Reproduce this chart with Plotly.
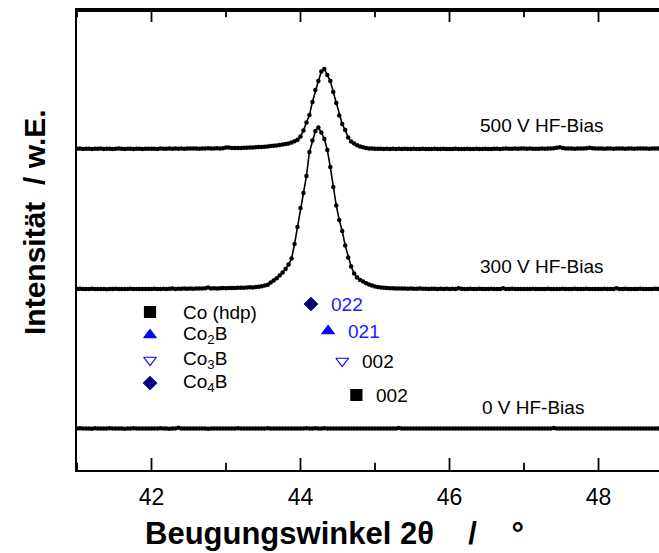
import plotly.graph_objects as go

# ---------------- data ----------------
# 2-theta measurement grid (instrument step 0.04 deg, 41.00 .. 48.80 deg)
two_theta_start = 41.0
two_theta_step = 0.04
n_points = 196
two_theta = [round(two_theta_start + two_theta_step * i, 2) for i in range(n_points)]

bias_labels = ["0 V HF-Bias", "300 V HF-Bias", "500 V HF-Bias"]

# intensities as plotted (arbitrary units, curves stacked)
intensity_0V = [
    41.5, 41.8, 41.4, 41.6, 41.5, 41.3, 41.7, 41.5, 41.4, 41.6, 41.5, 41.8, 41.5, 41.4, 41.6, 41.5, 41.3, 41.6, 41.5, 41.7, 41.4, 41.5, 41.6, 41.5, 41.4,
    41.6, 41.5, 41.4, 41.7, 41.5, 41.5, 41.3, 41.6, 41.5, 42.2, 41.6, 41.5, 41.4, 41.5, 41.6, 41.5, 41.4, 41.6, 41.5, 41.3, 41.5, 41.6, 41.4, 41.5, 41.6,
    41.5, 41.4, 41.6, 41.5, 41.7, 41.5, 41.4, 41.5, 41.6, 41.5, 41.4, 41.5, 41.6, 41.5, 41.7, 41.5, 41.4, 41.6, 41.5, 41.5, 41.4, 41.6, 41.5, 41.6, 41.5,
    41.6, 41.5, 41.7, 41.6, 41.5, 41.8, 41.6, 41.5, 41.7, 41.6, 41.5, 41.4, 41.6, 41.5, 41.5, 41.6, 41.4, 41.5, 41.6, 41.5, 41.4, 41.5, 41.6, 41.5, 41.4,
    41.5, 41.6, 41.4, 41.5, 41.5, 41.6, 41.4, 41.5, 42.1, 41.5, 41.4, 41.6, 41.5, 41.5, 41.4, 41.6, 41.5, 41.4, 41.5, 41.6, 41.5, 41.4, 41.5, 41.6, 41.5,
    41.4, 41.5, 41.6, 41.5, 41.4, 41.5, 41.6, 41.5, 41.4, 41.5, 41.6, 41.5, 41.4, 41.5, 41.5, 41.6, 41.4, 41.5, 41.6, 41.5, 41.4, 41.5, 41.6, 41.5, 41.4,
    41.5, 41.6, 41.4, 41.5, 41.6, 41.5, 41.4, 41.5, 41.6, 41.5, 41.9, 41.5, 41.4, 41.5, 41.6, 41.5, 41.4, 41.5, 41.6, 41.5, 41.4, 41.5, 41.6, 41.5, 41.5,
    41.4, 41.5, 41.6, 41.5, 41.4, 41.5, 41.6, 41.5, 41.4, 41.5, 41.6, 41.5, 41.4, 41.5, 41.6, 41.5, 41.4, 41.5, 41.6, 41.5, 41.5,
]

intensity_300V = [
    181.0, 181.2, 180.9, 181.1, 181.0, 181.2, 180.9, 181.0, 181.1, 181.0, 180.8, 181.1, 181.0, 181.2, 181.0, 180.9, 181.1, 181.0, 181.2, 180.9, 181.0, 181.1, 181.0, 180.9, 181.1,
    181.0, 181.2, 181.1, 181.0, 181.3, 181.1, 181.2, 181.4, 181.1, 181.3, 181.2, 181.4, 181.2, 181.5, 181.3, 181.4, 181.6, 181.4, 181.7, 182.6, 181.6, 181.8, 181.6, 181.8, 181.9,
    181.8, 182.0, 182.1, 181.9, 182.2, 182.3, 182.2, 182.4, 182.8, 182.6, 183.0, 183.3, 183.8, 184.5, 185.3, 187.5, 189.5, 191.7, 194.5, 197.5, 201.0, 205.5, 211.5, 226.0, 243.0,
    262.0, 277.0, 294.0, 318.0, 329.5, 339.0, 342.5, 337.5, 331.0, 320.0, 303.0, 283.0, 264.5, 250.0, 239.0, 224.5, 212.5, 203.5, 196.5, 192.5, 190.0, 188.5, 186.8, 185.5, 184.4,
    183.6, 183.0, 182.6, 182.3, 182.0, 181.8, 181.7, 181.5, 181.6, 181.4, 181.5, 181.3, 181.4, 181.3, 181.2, 181.4, 181.2, 181.3, 181.1, 181.2, 181.3, 181.1, 181.2, 181.0, 181.2,
    181.1, 181.2, 181.0, 181.8, 181.2, 181.1, 181.0, 181.2, 181.1, 181.0, 181.2, 181.1, 181.0, 181.1, 181.2, 181.0, 181.1, 181.0, 181.7, 181.1, 181.0, 181.2, 181.1, 181.0, 181.1,
    181.0, 181.1, 181.0, 181.2, 181.1, 181.0, 181.1, 181.0, 181.2, 181.1, 181.0, 181.1, 181.0, 181.2, 181.1, 181.0, 181.1, 181.2, 181.0, 181.1, 181.0, 181.2, 181.1, 181.0, 181.1,
    181.0, 181.1, 181.2, 181.0, 181.1, 181.0, 181.7, 181.1, 181.0, 181.2, 181.1, 181.0, 181.1, 181.0, 181.2, 181.1, 181.0, 181.1, 181.0, 181.2, 181.1,
]

intensity_500V = [
    321.2, 321.4, 321.1, 321.3, 321.2, 321.0, 321.3, 321.2, 321.4, 321.1, 321.2, 321.3, 321.1, 321.2, 321.4, 321.2, 321.1, 321.3, 321.2, 321.0, 321.2, 321.3, 321.1, 321.2, 321.3,
    321.2, 321.3, 321.1, 321.4, 321.2, 321.3, 321.5, 321.2, 321.4, 321.3, 321.5, 321.3, 321.4, 321.6, 321.4, 321.5, 321.3, 321.6, 321.5, 321.7, 321.5, 321.6, 321.8, 321.6, 321.7,
    322.4, 322.6, 322.0, 321.9, 322.1, 322.0, 322.3, 322.2, 322.5, 322.4, 322.7, 322.9, 323.0, 323.2, 323.6, 323.9, 324.2, 324.6, 325.0, 325.5, 326.0, 326.6, 327.6, 328.8, 330.2,
    333.5, 339.5, 347.5, 355.0, 368.0, 380.0, 389.0, 398.5, 401.0, 395.0, 389.0, 378.0, 367.0, 354.5, 346.0, 340.0, 332.5, 328.5, 326.5, 324.8, 323.6, 322.7, 322.0, 321.6, 321.4,
    321.3, 321.2, 321.3, 321.1, 321.2, 321.0, 321.2, 321.1, 321.3, 321.0, 321.2, 321.1, 321.0, 321.2, 321.1, 321.0, 321.2, 321.1, 321.0, 321.1, 321.2, 321.0, 321.1, 321.2, 321.0,
    321.1, 321.0, 321.2, 321.1, 321.0, 321.1, 321.2, 321.0, 321.1, 321.2, 321.0, 321.1, 321.2, 321.0, 321.1, 321.2, 321.3, 321.1, 321.2, 321.4, 321.2, 321.3, 321.5, 321.3, 321.6,
    321.5, 321.3, 321.4, 321.2, 321.3, 321.2, 321.4, 321.3, 321.5, 321.6, 321.8, 322.2, 322.8, 322.0, 321.6, 321.4, 321.5, 321.3, 321.4, 321.6, 321.5, 321.8, 322.3, 321.7, 321.5,
    321.4, 321.5, 321.3, 321.4, 321.5, 321.3, 321.4, 321.6, 321.4, 321.3, 321.5, 321.4, 321.3, 321.5, 321.4, 321.6, 321.4, 321.3, 321.5, 321.4, 321.5,
]

# phases (legend) and reference reflections
phase_names = ["Co (hdp)", "Co<sub>2</sub>B", "Co<sub>3</sub>B", "Co<sub>4</sub>B"]
reflex_2theta = [44.75, 44.37, 44.56, 44.14]
reflex_hkl = ["002", "021", "002", "022"]
reflex_height = [75, 139, 109, 166]

major_ticks = [42, 44, 46, 48]
minor_ticks = [41, 43, 45, 47]

# ---------------- styling / layout ----------------
FONT = "Liberation Sans, Arial, sans-serif"
phase_symbols = ["square", "triangle-up", "triangle-down-open", "diamond"]
phase_colors = ["#000000", "#0000FF", "#0000FF", "#000080"]
phase_sizes = [11, 11, 11, 10]
hkl_colors = ["#000000", "#1a1aff", "#000000", "#1a1aff"]

LEGEND_X = 41.98
LEGEND_Y = [158, 135, 110, 87]
LABEL_POS = [(46.41, 63), (46.38, 204), (46.38, 345)]
X_RANGE = [41, 48.812]
Y_RANGE = [0, 460]          # 1 unit == 1 px of plot height
MAJOR_LEN, MINOR_LEN = 10, 6

fig = go.Figure()

curves = [intensity_0V, intensity_300V, intensity_500V]
for lab, ys in zip(bias_labels, curves):
    fig.add_trace(go.Scatter(
        x=two_theta, y=ys, mode="lines+markers", name=lab,
        line=dict(color="black", width=1.6),
        marker=dict(color="black", size=4.5),
        showlegend=False, hoverinfo="skip",
    ))

# reflection markers with hkl labels
for i in range(len(reflex_2theta)):
    fig.add_trace(go.Scatter(
        x=[reflex_2theta[i]], y=[reflex_height[i]], mode="markers",
        marker=dict(symbol=phase_symbols[i], color=phase_colors[i], size=phase_sizes[i],
                    line=dict(color=phase_colors[i], width=1.2)),
        showlegend=False, hoverinfo="skip",
    ))
    fig.add_annotation(x=reflex_2theta[i], y=reflex_height[i], xref="x", yref="y",
                       text=reflex_hkl[i], showarrow=False, xanchor="left", yanchor="middle",
                       xshift=18, font=dict(family=FONT, size=19, color=hkl_colors[i]))

# legend (symbol + text) inside the plot
for i, name in enumerate(phase_names):
    fig.add_trace(go.Scatter(
        x=[LEGEND_X], y=[LEGEND_Y[i]], mode="markers",
        marker=dict(symbol=phase_symbols[i], color=phase_colors[i], size=phase_sizes[i],
                    line=dict(color=phase_colors[i], width=1.2)),
        showlegend=False, hoverinfo="skip",
    ))
    fig.add_annotation(x=LEGEND_X, y=LEGEND_Y[i], xref="x", yref="y", text=name, showarrow=False,
                       xanchor="left", yanchor="middle", xshift=31,
                       font=dict(family=FONT, size=19, color="black"))

# curve labels
for lab, (lx, ly) in zip(bias_labels, LABEL_POS):
    fig.add_annotation(x=lx, y=ly, xref="x", yref="y", text=lab, showarrow=False,
                       xanchor="left", yanchor="middle",
                       font=dict(family=FONT, size=19, color="black"))

# axis titles
NB = "\u00a0"
fig.add_annotation(text="Beugungswinkel 2\u03b8" + NB * 4 + "/" + NB * 4 + "\u00b0",
                   xref="paper", yref="paper",
                   x=0.443, y=-0.137, showarrow=False, xanchor="center", yanchor="middle",
                   font=dict(family=FONT, size=31, color="black", weight="bold"))
fig.add_annotation(text="Intensit\u00e4t" + NB * 2 + "/" + NB + "w.E.", xref="paper", yref="paper",
                   x=-0.074, y=0.539, showarrow=False, xanchor="center", yanchor="middle",
                   textangle=-90,
                   font=dict(family=FONT, size=30, color="black", weight="bold"))

# frame top line (drawn just inside the plot area)
fig.add_trace(go.Scatter(x=[X_RANGE[0], X_RANGE[1]], y=[Y_RANGE[1] - 1, Y_RANGE[1] - 1],
                         mode="lines", line=dict(color="black", width=2.2),
                         showlegend=False, hoverinfo="skip"))
# inward ticks on bottom and top edges as vertical line markers
for ticks, ln in ((major_ticks, MAJOR_LEN), (minor_ticks, MINOR_LEN)):
    tx = ticks + ticks
    ty = [Y_RANGE[0] + ln / 2] * len(ticks) + [Y_RANGE[1] - ln / 2] * len(ticks)
    fig.add_trace(go.Scatter(x=tx, y=ty, mode="markers", cliponaxis=False,
                             marker=dict(symbol="line-ns", size=ln, color="black",
                                         line=dict(color="black", width=1.8)),
                             showlegend=False, hoverinfo="skip"))

fig.update_layout(
    width=659, height=553,
    margin=dict(l=77, r=0, t=10, b=83),
    paper_bgcolor="white", plot_bgcolor="white",
    showlegend=False,
    xaxis=dict(range=X_RANGE, showline=True, linecolor="black", linewidth=1.6,
               mirror=True, ticks="", tickmode="array", tickvals=major_ticks,
               ticktext=[str(t) for t in major_ticks],
               showgrid=False, zeroline=False, ticklabelstandoff=6,
               tickfont=dict(family=FONT, size=23, color="black")),
    yaxis=dict(range=Y_RANGE, showline=True, linecolor="black", linewidth=1.6,
               showticklabels=False, ticks="", showgrid=False, zeroline=False),
)

fig.write_html("out.html")
